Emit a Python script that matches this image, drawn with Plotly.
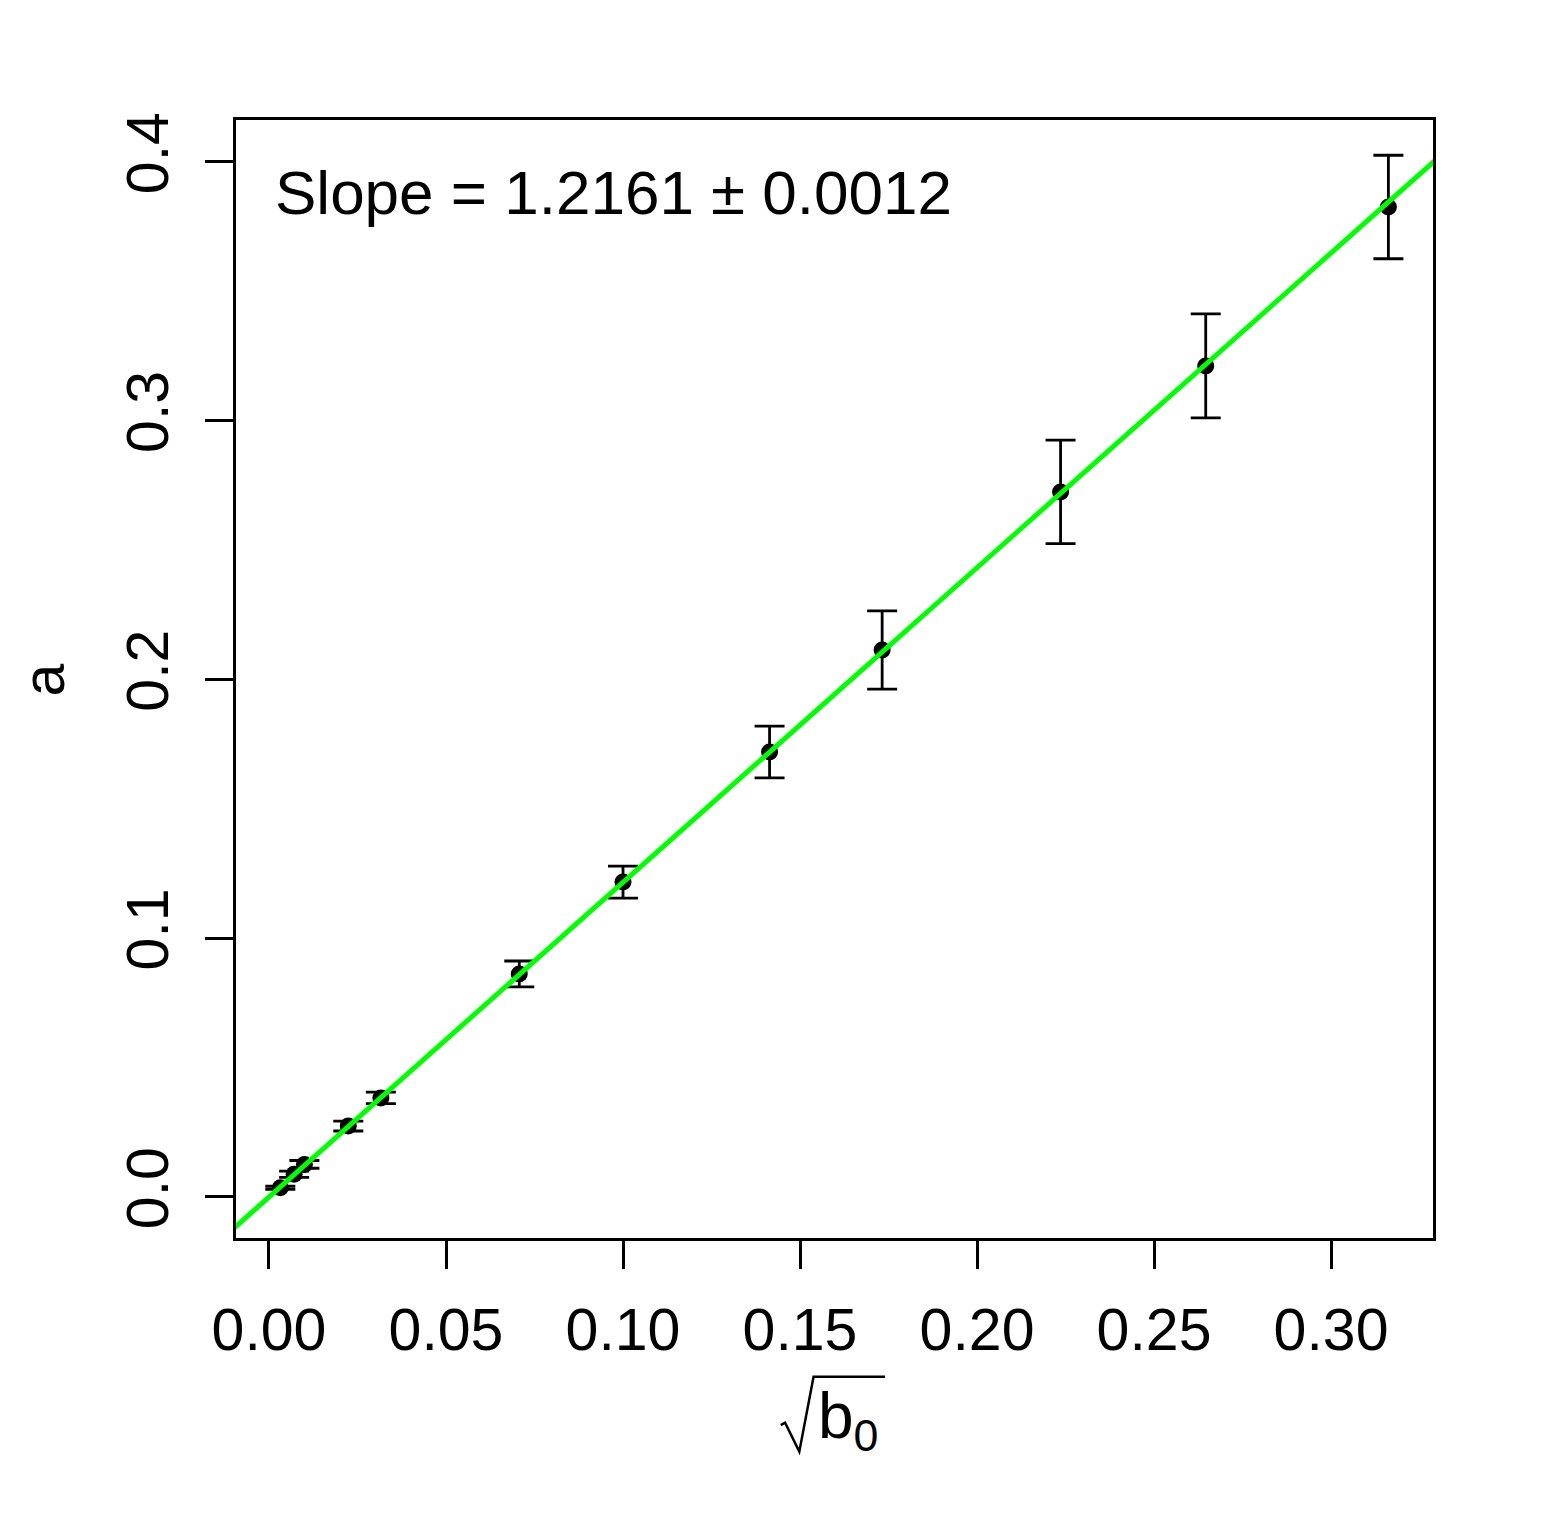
import plotly.graph_objects as go

# Data
sqrt_b0 = [0.0032, 0.0071, 0.0100, 0.0224, 0.0316, 0.0707, 0.1000, 0.1414, 0.1732, 0.2236, 0.2646, 0.3162]
a_vals = [0.0036, 0.0088, 0.0126, 0.0274, 0.0383, 0.0862, 0.1217, 0.1720, 0.2114, 0.2725, 0.3212, 0.3826]
a_err = [0.0006, 0.0012, 0.0015, 0.0019, 0.0022, 0.0050, 0.0062, 0.0100, 0.0151, 0.0200, 0.0201, 0.0200]
slope = 1.2161
slope_err = 0.0012
x_ticks = [0.00, 0.05, 0.10, 0.15, 0.20, 0.25, 0.30]
x_tick_labels = ["0.00", "0.05", "0.10", "0.15", "0.20", "0.25", "0.30"]
y_ticks = [0.0, 0.1, 0.2, 0.3, 0.4]
y_tick_labels = ["0.0", "0.1", "0.2", "0.3", "0.4"]
fit_x = [-0.02, 0.34]

FONT = "Liberation Sans, Arial, sans-serif"

fig = go.Figure()
fig.add_trace(go.Scatter(
    x=sqrt_b0, y=a_vals, mode="markers",
    marker=dict(color="black", size=17),
    error_y=dict(type="data", array=a_err, visible=True, color="black", thickness=2.8, width=15),
    showlegend=False, cliponaxis=False,
))
fig.add_trace(go.Scatter(
    x=fit_x, y=[slope * v for v in fit_x], mode="lines",
    line=dict(color="#00FF00", width=5), showlegend=False,
))

# radical sign drawn as a path (paper coordinates) for the x-axis title
radical_path = "M 0.4551,-0.1673 L 0.4587,-0.1652 L 0.4706,-0.1911 L 0.4825,-0.1241 L 0.5422,-0.1241"

fig.update_layout(
    width=1546, height=1525,
    margin=dict(l=228, r=121, t=112, b=295),
    paper_bgcolor="white", plot_bgcolor="white",
    font=dict(family=FONT, color="black", size=59),
    xaxis=dict(
        range=[-0.00932, 0.3288], tickvals=x_ticks, ticktext=x_tick_labels,
        showgrid=False, zeroline=False, showline=True, mirror=True,
        linecolor="black", linewidth=2.5, ticks="outside", ticklen=28, tickwidth=2.5,
        tickcolor="black", tickfont=dict(size=59), ticklabelstandoff=10,
    ),
    yaxis=dict(
        range=[-0.01585, 0.41623], tickvals=y_ticks, ticktext=y_tick_labels,
        showgrid=False, zeroline=False, showline=True, mirror=True,
        linecolor="black", linewidth=2.5, ticks="outside", ticklen=28, tickwidth=2.5,
        tickcolor="black", tickfont=dict(size=59), tickangle=-90, ticklabelstandoff=14,
    ),
    annotations=[
        dict(text="Slope = %.4f \u00b1 %.4f" % (slope, slope_err), xref="paper", yref="paper",
             x=0.0307, y=0.935, xanchor="left", yanchor="middle", showarrow=False,
             font=dict(size=62)),
        dict(text="b<sub>0</sub>",
             xref="paper", yref="paper", x=0.4842, y=-0.1628, xanchor="left", yanchor="middle",
             showarrow=False, font=dict(size=64)),
        dict(text="a", xref="paper", yref="paper", x=-0.16, y=0.499, xanchor="center",
             yanchor="middle", showarrow=False, textangle=-90, font=dict(size=59)),
    ],
    shapes=[
        dict(type="path", xref="paper", yref="paper", path=radical_path,
             line=dict(color="black", width=2.5)),
    ],
)

fig.write_html("out.html")
